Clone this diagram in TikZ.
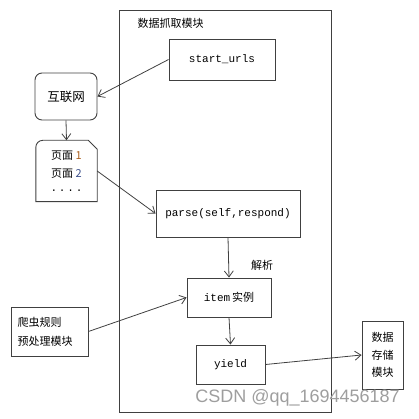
\documentclass[tikz,border=0pt]{standalone}
\usepackage{fontspec}
\setmainfont{Noto Sans CJK SC}
\setmonofont{Liberation Mono}
\newfontfamily\markfont{Liberation Sans}
\usetikzlibrary{arrows.meta, positioning}

\definecolor{linegray}{RGB}{64,64,64}
\definecolor{numone}{RGB}{170,95,30}
\definecolor{numtwo}{RGB}{60,80,140}

\begin{document}
\begin{tikzpicture}[x=1pt, y=-1pt, font=\fontsize{11}{13}\selectfont]
        \tikzstyle{block} = [rectangle, draw = linegray, line width = 0.9pt, inner sep = 0pt]
        \tikzstyle{code} = [font = \ttfamily\fontsize{11}{13}\selectfont]
        \tikzstyle{connect} = [-{Straight Barb[length=6pt, width=9pt]}, draw = linegray, line width = 0.8pt]
        \useasboundingbox (0,0) rectangle (418,419);

        % module frame
        \node[block, minimum width = 212, minimum height = 402] (frame) at (225,211) {};
        \node[anchor = west] (title) at (134,23) {数据抓取模块};

        \node[block, code, minimum width = 106, minimum height = 41] (urls) at (222,59.5) {start\_urls};
        \node[block, rounded corners = 7pt, minimum width = 62, minimum height = 47,
              font = \fontsize{12.5}{14}\selectfont] (web) at (66,96.5) {互联网};
        \node[minimum width = 61, minimum height = 61, inner sep = 0pt, align = center] (pages) at (66.5,171)
              {页面 \textcolor{numone}{1}\\[5pt]页面 \textcolor{numtwo}{2}\\[1.5pt]\texttt{.\,.\,.\,.}};
        \draw[linegray, line width = 0.9pt] (pages.south west) [rounded corners = 7pt] -- (pages.north west)
              [sharp corners] -- ([xshift = -9pt]pages.north east) -- ([yshift = -9pt]pages.north east)
              -- (pages.south east) -- cycle;
        \node[block, code, minimum width = 144, minimum height = 47] (parse) at (228,213.5) {parse(self,respond)};
        \node (parsing) at (262,265) {解析};
        \node[block, minimum width = 84, minimum height = 39] (item) at (229,297.5) {\texttt{item}\,实例};
        \node[block, code, minimum width = 69, minimum height = 39] (yield) at (230.5,364.5) {yield};
        \node[block, minimum width = 77, minimum height = 49, align = left, text width = 64pt] (rules) at (49.5,331.5)
              {爬虫规则\\[6pt]预处理模块};
        \node[block, minimum width = 41, minimum height = 68, align = center] (store) at (382.5,355)
              {数据\\[4.5pt]存储\\[4.5pt]模块};

        \path (urls.west) edge [connect] (web.east)
              (web.south) edge [connect] (pages.north)
              (pages.east) edge [connect] (parse.west)
              (parse.south) edge [connect] (item.north)
              (item.south) edge [connect] (yield.north)
              (rules.east) edge [connect] (item.west)
              (yield.east) edge [connect] (store.west);

        \node[text = black!38, font = \markfont\fontsize{18}{20}\selectfont] (mark) at (297.5,398) {CSDN @qq\_1694456187};
      \end{tikzpicture}
\end{document}
